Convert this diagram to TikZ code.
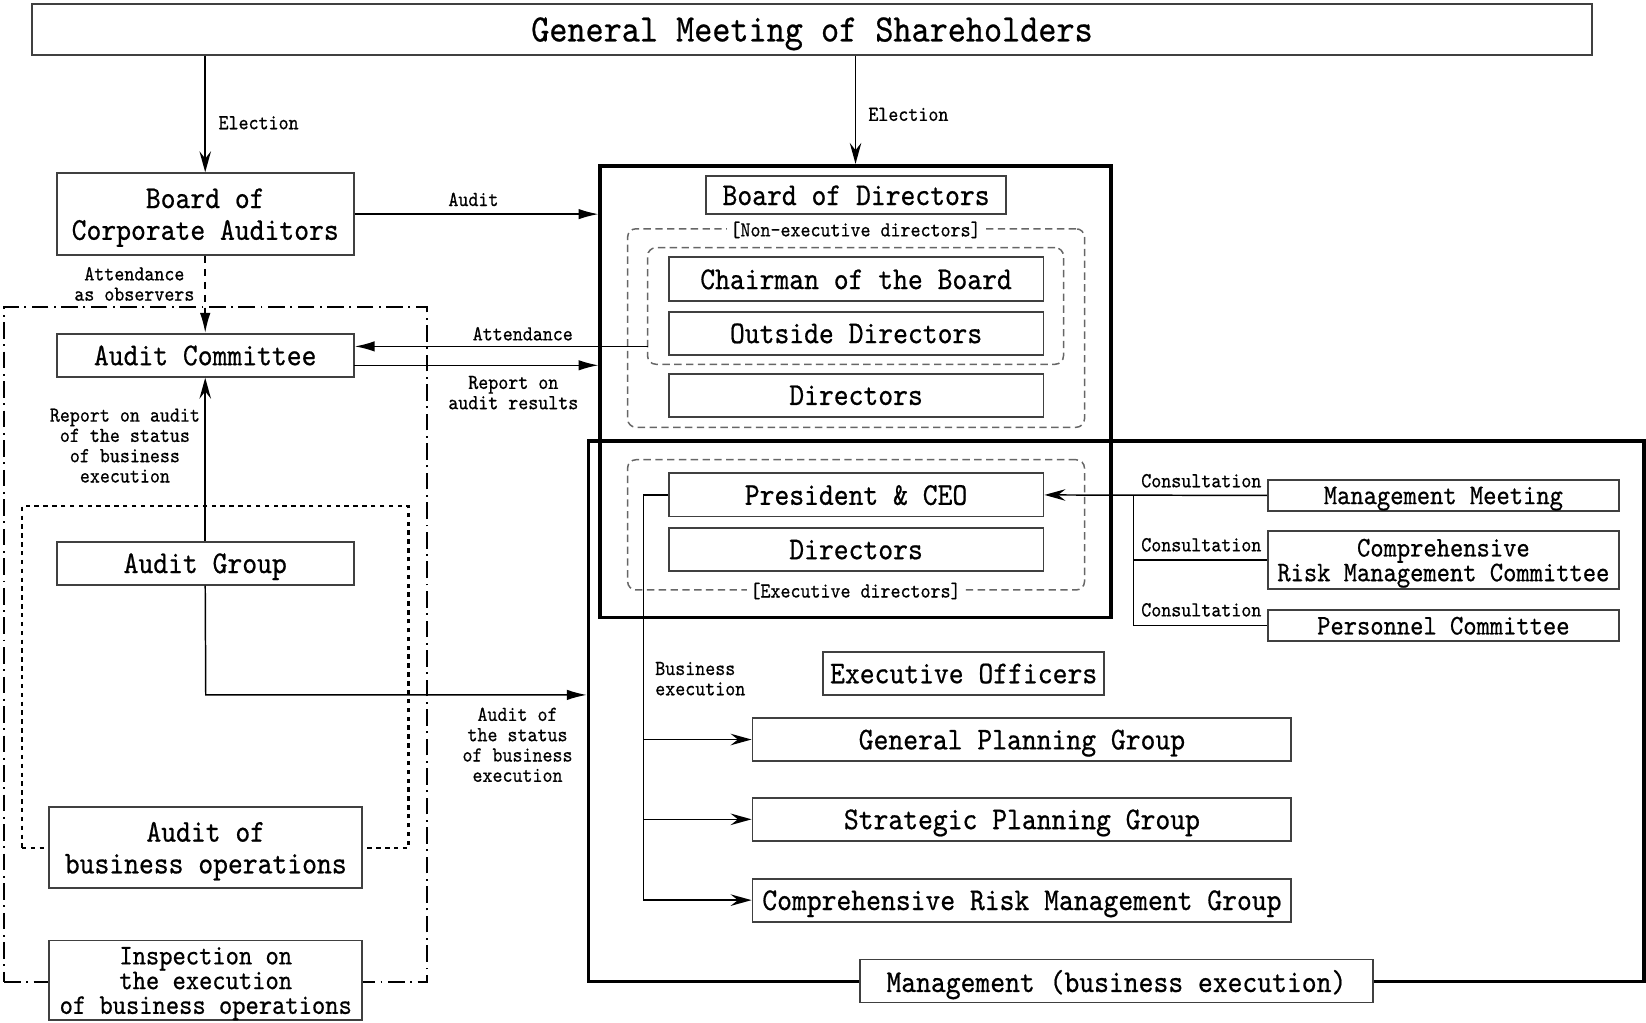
\documentclass[tikz,border=0pt]{standalone}
\usepackage{fontspec}
\setmainfont[FakeStretch=0.89, FakeBold=0.6]{lmmono10-regular.otf}
\usetikzlibrary{arrows.meta}

\newcommand\fbig{\fontsize{10.5}{12}\selectfont}
\newcommand\fmid{\fontsize{8.6}{8.6}\selectfont}
\newcommand\fsm{\fontsize{7.7}{6.7}\selectfont}
\newcommand\ftiny{\fontsize{5.8}{5.5}\selectfont}

\begin{document}
\begin{tikzpicture}[x=0.01cm, y=-0.01cm,
  box/.style={draw=black!75, line width=0.5pt, fill=white, inner sep=0pt, align=center, font=\fmid, text depth=0pt},
  frame/.style={draw, line width=1pt, inner sep=0pt},
  grp/.style={draw=black!60, line width=0.4pt, dash pattern=on 2pt off 1.2pt, rounded corners=0.08cm, inner sep=0pt},
  lbl/.style={font=\ftiny, align=center, inner sep=1pt},
  arrL/.style={line width=0.4pt, -{Latex[length=0.19cm, width=0.1cm]}},
  arrS/.style={line width=0.4pt, -{Stealth[length=0.2cm, width=0.11cm, inset=0.07cm]}}]
\useasboundingbox (0,0) rectangle (1568,974);

% frames
\node[frame, minimum width=4.86cm, minimum height=4.30cm] (board) at (815,373) {};
\node[frame, minimum width=10.05cm, minimum height=5.15cm] (mgmt) at (1063.5,677.5) {};
\node[draw, line width=0.5pt, dash pattern=on 4.5pt off 1.5pt on 0.5pt off 1.5pt, inner sep=0pt,
  minimum width=4.03cm, minimum height=6.42cm] (auditarea) at (205.5,614) {};
\node[draw, line width=0.6pt, dash pattern=on 1.2pt off 1.2pt, inner sep=0pt,
  minimum width=3.68cm, minimum height=3.26cm] (auditgrp) at (205,645) {};
\node[grp, minimum width=4.35cm, minimum height=1.89cm] (nonexec) at (815.5,312.5) {};
\node[grp, minimum width=3.96cm, minimum height=1.11cm] (inner) at (815,291.5) {};
\node[grp, minimum width=4.35cm, minimum height=1.24cm] (execg) at (815.5,500) {};

% boxes
\node[box, font=\fbig, minimum width=14.85cm, minimum height=0.48cm] (gms) at (773.5,28) {General Meeting of Shareholders};
\node[box, minimum width=2.83cm, minimum height=0.78cm] (bca) at (195.5,204) {Board of\\Corporate Auditors};
\node[box, minimum width=2.83cm, minimum height=0.41cm] (ac) at (195.5,338.5) {Audit Committee};
\node[box, minimum width=2.83cm, minimum height=0.41cm] (ag) at (195.5,536.5) {Audit Group};
\node[box, minimum width=2.98cm, minimum height=0.77cm] (abo) at (196,807.5) {Audit of\\business operations};
\node[box, font=\fsm, minimum width=2.98cm, minimum height=0.76cm] (insp) at (196,934) {Inspection on\\the execution\\of business operations};

\node[box, minimum width=2.85cm, minimum height=0.36cm] (bod) at (815.5,186) {Board of Directors};
\node[box, minimum width=3.57cm, minimum height=0.42cm] (chair) at (815.5,266) {Chairman of the Board};
\node[box, minimum width=3.57cm, minimum height=0.41cm] (outd) at (815.5,317.5) {Outside Directors};
\node[box, minimum width=3.57cm, minimum height=0.41cm] (dirs) at (815.5,376.5) {Directors};
\node[box, minimum width=3.57cm, minimum height=0.41cm] (pres) at (815.5,471.5) {President \& CEO};
\node[box, minimum width=3.57cm, minimum height=0.41cm] (edirs) at (815.5,523.5) {Directors};

\node[box, minimum width=2.68cm, minimum height=0.41cm] (eo) at (918,641.5) {Executive Officers};
\node[box, minimum width=5.13cm, minimum height=0.41cm] (gpg) at (973.5,704.5) {General Planning Group};
\node[box, minimum width=5.13cm, minimum height=0.41cm] (spg) at (973.5,780.5) {Strategic Planning Group};
\node[box, minimum width=5.13cm, minimum height=0.41cm] (crmg) at (973.5,857.5) {Comprehensive Risk Management Group};
\node[box, minimum width=4.89cm, minimum height=0.41cm] (mbe) at (1063.5,934.5) {Management (business execution)};

\node[box, font=\fsm, minimum width=3.34cm, minimum height=0.30cm] (mm) at (1375,472) {Management Meeting};
\node[box, font=\fsm, minimum width=3.34cm, minimum height=0.55cm] (crmc) at (1375,533.5) {Comprehensive\\Risk Management Committee};
\node[box, font=\fsm, minimum width=3.34cm, minimum height=0.30cm] (pc) at (1375,596) {Personnel Committee};

% group labels
\node[lbl, fill=white] (nonexeclbl) at (815,219) {[Non-executive directors]};
\node[lbl, fill=white] (execlbl) at (815,563) {[Executive directors]};

% connector points
\coordinate (attn) at (617,330);
\coordinate (rep) at (337,348);
\coordinate (agturn) at (196,662);
\coordinate (bx) at (613,471.5);
\coordinate (cj) at (1080,472);

% connectors
\draw[arrS] (gms.south -| bca.north) -- (bca.north);
\draw[arrS] (gms.south -| board.north) -- (board.north);
\draw[arrL] (bca.east) -- (bca.east -| board.west);
\draw[arrL, dash pattern=on 2pt off 1.5pt] (bca.south) -- (ac.north);
\draw[arrL] (attn) -- (attn -| ac.east);
\draw[arrL] (rep) -- (rep -| board.west);
\draw[arrS] (ag.north) -- (ac.south);
\draw[arrL] (ag.south) -- (agturn) -- (agturn -| mgmt.west);
\draw[arrS] (mm.west) -- (pres.east);
\draw (cj) |- (pc.west);
\draw (cj |- crmc.west) -- (crmc.west);
\draw[arrS] (pres.west) -- (bx) |- (crmg.west);
\draw[arrS] (bx |- gpg.west) -- (gpg.west);
\draw[arrS] (bx |- spg.west) -- (spg.west);

% labels
\node[lbl, anchor=west] (el1) at (204,117) {Election};
\node[lbl, anchor=west] (el2) at (823,109) {Election};
\node[lbl] (audl) at (451,190) {Audit};
\node[lbl] (obsl) at (128,270.5) {Attendance\\as observers};
\node[lbl] (attl) at (498,318) {Attendance};
\node[lbl] (repl) at (489,374) {Report on\\audit results};
\node[lbl] (rpal) at (119,424.5) {Report on audit\\of the status\\of business\\execution};
\node[lbl] (aosl) at (493,709.5) {Audit of\\the status\\of business\\execution};
\node[lbl, anchor=west, align=left] (bexl) at (620,646.5) {Business\\execution};
\node[lbl, anchor=west] (con1) at (1083,458) {Consultation};
\node[lbl, anchor=west] (con2) at (1083,519) {Consultation};
\node[lbl, anchor=west] (con3) at (1083,581) {Consultation};
\end{tikzpicture}
\end{document}
